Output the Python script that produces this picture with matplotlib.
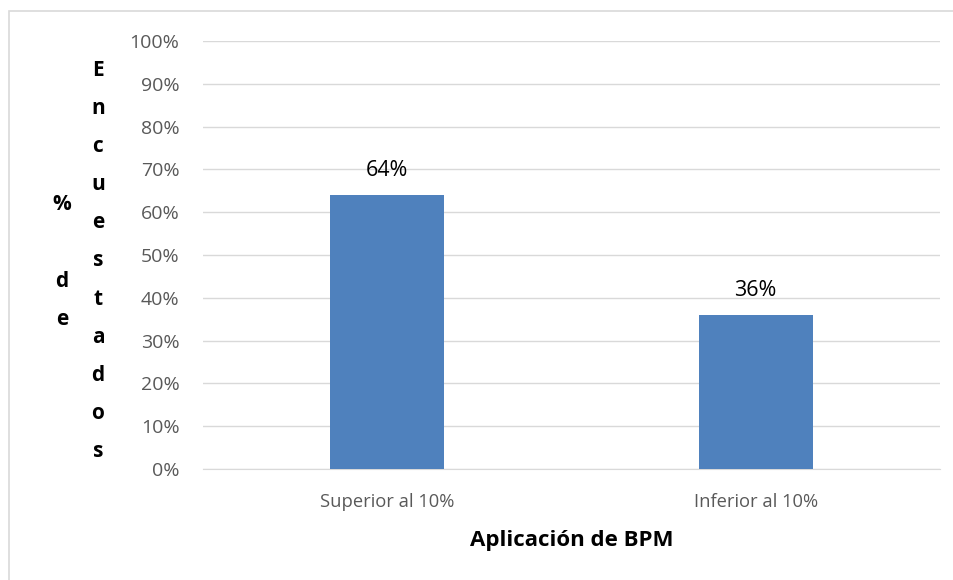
import matplotlib
matplotlib.use("Agg")
import matplotlib.pyplot as plt
import numpy as np
from matplotlib.patches import Rectangle

# data
categories = ["Superior al 10%", "Inferior al 10%"]
values = [64, 36]
yticks = list(range(0, 101, 10))

plt.rcParams['font.family'] = ['Open Sans', 'DejaVu Sans']

fig = plt.figure(figsize=(9.54, 5.8), dpi=100)
ax = fig.add_axes([203/954, 1 - 469/580, 737/954, 428/580])

# light outer frame like the exported chart
fig.patches.append(Rectangle((9/954, -0.1), 1.2, 1 - 11/580 + 0.1, transform=fig.transFigure,
                             fill=False, edgecolor='#D9D9D9', linewidth=1.2))

x = np.arange(len(categories))
ax.bar(x, values, width=0.31, color='#4F81BD', zorder=3)
for xi, v in zip(x, values):
    ax.text(xi, v + 3.3, f"{v}%", ha='center', va='bottom', fontsize=15.5, color='black')

ax.set_xlim(-0.5, len(categories) - 0.5)
ax.set_ylim(0, 100)
ax.set_yticks(yticks)
ax.set_yticklabels([f"{t}%" for t in yticks], fontsize=14, color='#595959')
ax.set_xticks(x)
ax.set_xticklabels(categories, fontsize=13.2, color='#595959')
ax.tick_params(length=0)
ax.tick_params(axis='y', pad=17)
ax.tick_params(axis='x', pad=17)
ax.grid(axis='y', color='#D9D9D9', linewidth=1, zorder=0)
for s in ['top', 'right', 'left']:
    ax.spines[s].set_visible(False)
ax.spines['bottom'].set_color('#D9D9D9')

ax.set_xlabel("Aplicación de BPM", fontsize=16, fontweight='bold', labelpad=14)

# y label stacked letter by letter, wrapped into two columns
fig.text(62/954, 1 - 262/580, "%\n \nd\ne", ha='center', va='center', fontsize=15,
         fontweight='bold', linespacing=2.07)
fig.text(98/954, 1 - 261/580, "\n".join("Encuestados"), ha='center', va='center', fontsize=15,
         fontweight='bold', linespacing=2.07)

fig.savefig("out.png", dpi=100)
